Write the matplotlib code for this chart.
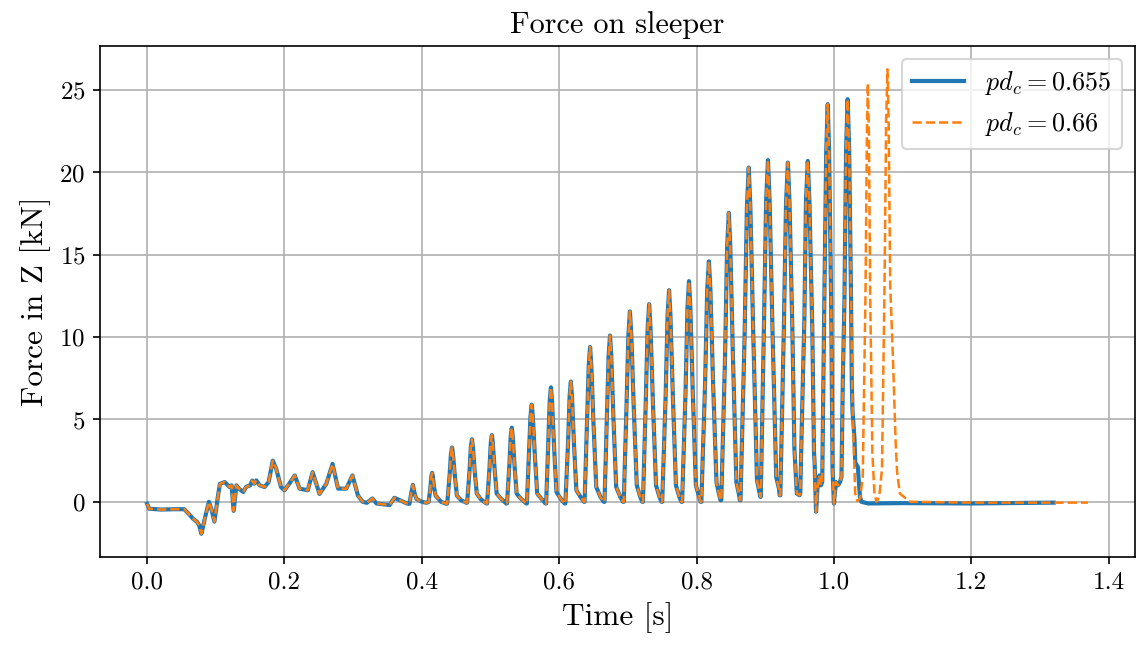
import matplotlib
matplotlib.use("Agg")
import matplotlib.pyplot as plt
import numpy as np

plt.rcParams["font.family"] = "serif"
plt.rcParams["font.serif"] = ["cmr10", "DejaVu Serif"]
plt.rcParams["mathtext.fontset"] = "cm"
plt.rcParams["axes.formatter.use_mathtext"] = True

# shared part of both runs (time [s], force [kN])
t_start = [0.000, 0.003, 0.020, 0.040, 0.054, 0.060, 0.066, 0.073, 0.076, 0.079,
           0.085, 0.090, 0.094, 0.098, 0.103, 0.106, 0.113, 0.120, 0.123, 0.126,
           0.130, 0.134, 0.140, 0.144, 0.150, 0.153, 0.156, 0.159, 0.164, 0.171,
           0.177, 0.183, 0.188, 0.195, 0.200, 0.207, 0.215, 0.222, 0.234, 0.241,
           0.251, 0.261, 0.270, 0.278, 0.290, 0.299, 0.307, 0.314, 0.320, 0.328,
           0.334, 0.353, 0.360, 0.368, 0.378]
f_start = [-0.12, -0.42, -0.47, -0.45, -0.45, -0.70, -0.99, -1.23, -1.44, -1.94,
           -0.84, 0.00, -0.50, -1.20, 0.30, 1.09, 1.20, 0.90, 1.00, -0.55,
           1.00, 0.79, 0.60, 0.90, 1.00, 1.29, 1.10, 1.30, 1.00, 0.90,
           1.20, 2.50, 2.00, 0.89, 0.70, 1.10, 1.60, 0.80, 0.70, 1.80,
           0.48, 1.10, 2.30, 0.80, 0.80, 1.60, 0.38, 0.00, -0.06, 0.20,
           -0.10, -0.20, 0.24, 0.10, -0.10]

# impact peaks, one row per peak
t_peaks = [0.382, 0.3845, 0.387, 0.3895, 0.392, 0.400, 0.407,
           0.410, 0.4125, 0.4139, 0.415, 0.416, 0.4178, 0.420, 0.428, 0.436,
           0.437, 0.4405, 0.4424, 0.444, 0.4454, 0.4479, 0.451, 0.457, 0.465,
           0.466, 0.4695, 0.4714, 0.473, 0.4744, 0.4769, 0.480, 0.486, 0.494,
           0.495, 0.4985, 0.5004, 0.502, 0.5034, 0.5059, 0.509, 0.515, 0.523,
           0.524, 0.5275, 0.5294, 0.531, 0.5324, 0.5349, 0.538, 0.544, 0.552,
           0.553, 0.556, 0.5582, 0.560, 0.5616, 0.5644, 0.568, 0.574, 0.580,
           0.581, 0.584, 0.5862, 0.588, 0.5896, 0.5924, 0.596, 0.602, 0.608,
           0.609, 0.613, 0.6152, 0.617, 0.6186, 0.6214, 0.625, 0.631, 0.636,
           0.637, 0.6405, 0.643, 0.645, 0.6468, 0.650, 0.654, 0.660, 0.665,
           0.666, 0.6695, 0.672, 0.674, 0.6758, 0.679, 0.683, 0.689, 0.693,
           0.694, 0.698, 0.7008, 0.703, 0.705, 0.7085, 0.713, 0.718, 0.721,
           0.722, 0.726, 0.7288, 0.731, 0.733, 0.7365, 0.741, 0.746, 0.749,
           0.750, 0.755, 0.7578, 0.760, 0.762, 0.7655, 0.770, 0.775, 0.778,
           0.779, 0.784, 0.7868, 0.789, 0.791, 0.7945, 0.799, 0.804, 0.806,
           0.807, 0.8125, 0.8155, 0.818, 0.8202, 0.824, 0.829, 0.833, 0.835,
           0.836, 0.8415, 0.8445, 0.847, 0.8492, 0.853, 0.858, 0.862, 0.863,
           0.864, 0.870, 0.8733, 0.876, 0.8784, 0.8826, 0.888, 0.892, 0.893,
           0.8935, 0.898, 0.9013, 0.904, 0.9064, 0.9106, 0.916, 0.920, 0.921,
           0.922, 0.927, 0.9303, 0.933, 0.9354, 0.9396, 0.9425, 0.946, 0.950,
           0.951, 0.954, 0.957, 0.9593, 0.962, 0.9644, 0.9686, 0.971, 0.972,
           0.974, 0.976, 0.979, 0.981,
           0.983, 0.986, 0.9888, 0.991, 0.993, 0.996, 0.998, 1.000, 1.003,
           1.006, 1.009,
           1.011, 1.013, 1.0153, 1.0178, 1.020, 1.0222, 1.025]
f_peaks = [-0.12, 0.50, 1.03, 0.50, 0.18, 0.00, -0.06,
           0.00, 0.88, 1.55, 1.76, 1.55, 0.88, 0.38, 0.00, -0.12,
           -0.10, 1.65, 2.90, 3.30, 2.90, 1.65, 0.38, 0.10, -0.06,
           -0.05, 1.90, 3.34, 3.80, 3.34, 1.90, 0.50, 0.15, -0.10,
           -0.10, 2.03, 3.56, 4.05, 3.56, 2.03, 0.50, 0.20, -0.10,
           -0.10, 2.25, 3.96, 4.50, 3.96, 2.25, 0.50, 0.20, -0.10,
           -0.10, 2.95, 5.19, 5.90, 5.19, 2.95, 0.50, 0.20, -0.10,
           -0.10, 3.48, 6.12, 6.95, 6.12, 3.48, 0.60, 0.20, -0.10,
           -0.10, 3.65, 6.42, 7.30, 6.42, 3.65, 0.70, 0.30, 0.00,
           0.00, 4.70, 8.27, 9.40, 8.27, 4.70, 0.90, 0.30, 0.00,
           0.00, 5.05, 8.89, 10.10, 8.89, 5.05, 0.90, 0.30, 0.00,
           0.00, 5.78, 10.17, 11.56, 10.17, 5.78, 1.00, 0.30, 0.00,
           0.00, 6.00, 10.56, 12.00, 10.56, 6.00, 1.00, 0.30, 0.00,
           0.00, 6.43, 11.31, 12.85, 11.31, 6.43, 1.00, 0.30, 0.00,
           0.00, 6.70, 11.79, 13.40, 11.79, 6.70, 1.00, 0.30, 0.00,
           0.00, 7.30, 12.85, 14.60, 12.85, 7.30, 1.20, 0.40, 0.10,
           0.10, 8.78, 15.44, 17.55, 15.44, 8.78, 1.20, 0.40, 0.10,
           0.10, 10.15, 17.86, 20.30, 17.86, 10.15, 1.30, 0.50, 0.30,
           0.30, 10.38, 18.26, 20.75, 18.26, 10.38, 1.50, 0.80, 0.40,
           0.40, 10.30, 18.13, 20.60, 18.13, 10.30, 3.20, 0.50, 0.40,
           0.50, 6.00, 11.10, 18.20, 20.70, 18.20, 10.35, 3.00, 2.30,
           -0.60, 0.80, 1.60, 1.00,
           1.20, 12.10, 21.25, 24.15, 21.25, 12.10, 2.00, -0.10, 1.20,
           1.00, 1.20,
           1.50, 7.40, 12.20, 21.50, 24.45, 21.50, 12.20]

# end of run pd_c = 0.655
t_tail_a = [1.026, 1.027, 1.030, 1.031, 1.035, 1.036, 1.038, 1.040, 1.050, 1.100, 1.200, 1.320]
f_tail_a = [7.40, 5.60, 3.80, 2.40, 2.10, 1.40, 0.30, 0.00, -0.10, -0.08, -0.10, -0.05]

# end of run pd_c = 0.66
t_tail_b = [1.027, 1.031, 1.034, 1.038, 1.042, 1.046, 1.048, 1.0494, 1.051, 1.0528,
            1.056, 1.059, 1.062, 1.066, 1.070, 1.0737, 1.076, 1.078, 1.0797, 1.082,
            1.086, 1.090, 1.092, 1.096, 1.111, 1.200, 1.370]
f_tail_b = [6.00, 0.50, 0.05, 0.20, 1.50, 12.70, 22.30, 25.40, 22.30, 12.70,
            3.00, 0.50, 0.00, 0.30, 2.00, 13.10, 23.10, 26.27, 23.10, 13.10,
            8.70, 3.50, 1.80, 0.50, 0.00, -0.05, -0.05]

t_a = np.array(t_start + t_peaks + t_tail_a)
f_a = np.array(f_start + f_peaks + f_tail_a)
t_b = np.array(t_start + t_peaks + t_tail_b)
f_b = np.array(f_start + f_peaks + f_tail_b)

fig = plt.figure(figsize=(1137 / 150, 646 / 150), dpi=150)
ax = fig.add_axes([0.088, 0.1378, 0.9103, 0.7910])

ax.plot(t_a, f_a, color="#1f77b4", lw=2.0, label=r"$pd_c = 0.655$")
ax.plot(t_b, f_b, color="#ff7f0e", lw=1.2, ls="--", label=r"$pd_c = 0.66$")

ax.set_title("Force on sleeper", fontsize=14.5)
ax.set_xlabel("Time [s]", fontsize=15)
ax.set_ylabel("Force in Z [kN]", fontsize=15)
ax.tick_params(labelsize=12)
ax.set_xticks([0.0, 0.2, 0.4, 0.6, 0.8, 1.0, 1.2, 1.4])
ax.set_xticklabels(["0.0", "0.2", "0.4", "0.6", "0.8", "1.0", "1.2", "1.4"])
ax.grid(True)
ax.legend(loc="upper right", fontsize=12.5)

fig.savefig("out.png", dpi=150)
